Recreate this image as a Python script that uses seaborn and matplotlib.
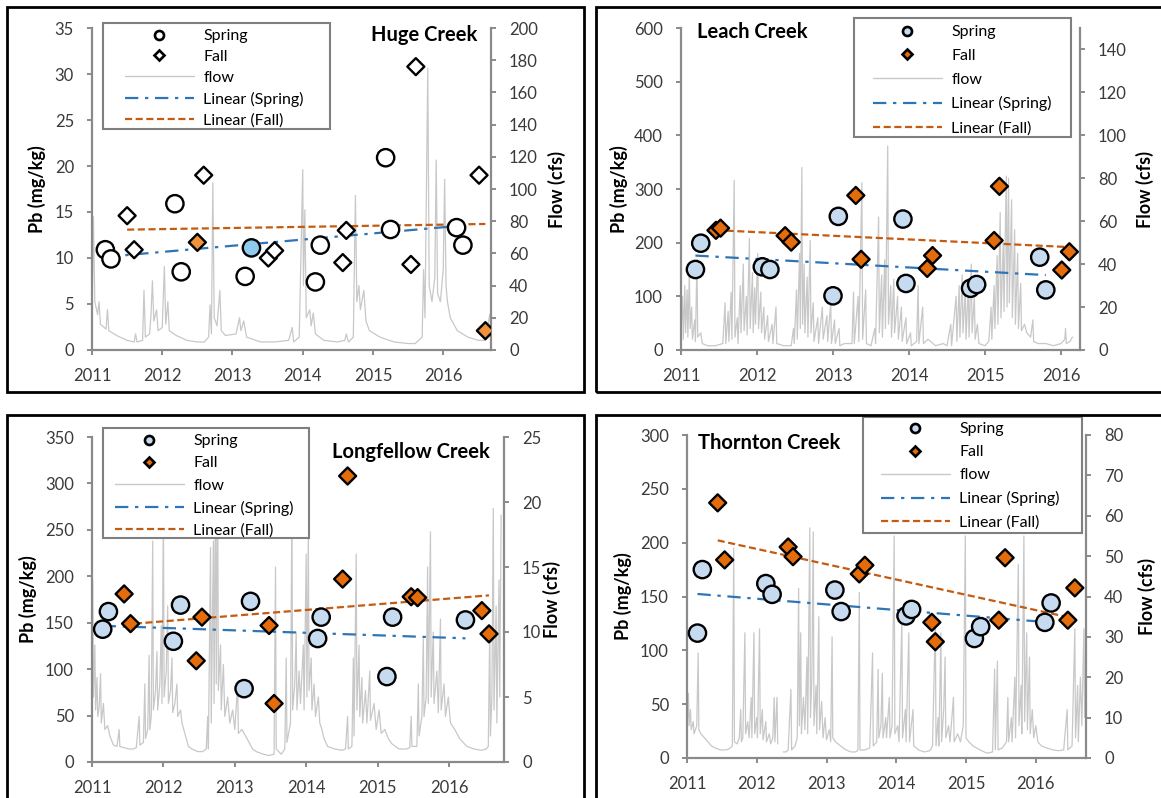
import numpy as np
import matplotlib
matplotlib.use("Agg")
import matplotlib.pyplot as plt
import seaborn as sns
from matplotlib.lines import Line2D
from matplotlib.patches import Rectangle

# ---------------------------------------------------------------- data
# Huge Creek
huge_spring_t = [2011.19, 2011.27, 2012.18, 2012.27, 2013.18, 2013.27,
                 2014.18, 2014.25, 2015.18, 2015.25, 2016.19, 2016.28]
huge_spring_pb = [10.9, 9.9, 15.9, 8.5, 8.0, 11.1, 7.4, 11.4, 20.9, 13.1, 13.3, 11.4]
huge_fall_t = [2011.50, 2011.60, 2012.50, 2012.59, 2013.51, 2013.60,
               2014.57, 2014.62, 2015.54, 2015.61, 2016.51, 2016.60]
huge_fall_pb = [14.6, 10.9, 11.7, 19.0, 10.0, 10.8, 9.5, 13.0, 9.3, 30.8, 19.0, 2.1]
huge_flow = [
    (2011.00, 20), (2011.02, 83), (2011.04, 30), (2011.08, 22), (2011.10, 30), (2011.12, 16),
    (2011.20, 13), (2011.22, 25), (2011.24, 12), (2011.35, 9), (2011.50, 6), (2011.60, 5),
    (2011.62, 10), (2011.64, 5), (2011.72, 6), (2011.74, 37), (2011.76, 8), (2011.82, 10),
    (2011.84, 22), (2011.86, 43), (2011.88, 18), (2011.92, 25), (2011.94, 12), (2012.00, 14),
    (2012.03, 52), (2012.05, 16), (2012.08, 30), (2012.10, 12), (2012.20, 9), (2012.35, 6),
    (2012.50, 5), (2012.60, 5), (2012.66, 8), (2012.68, 28), (2012.70, 10), (2012.72, 104),
    (2012.74, 20), (2012.78, 15), (2012.82, 37), (2012.84, 12), (2012.90, 9), (2013.05, 10),
    (2013.10, 20), (2013.12, 12), (2013.16, 18), (2013.20, 8), (2013.40, 5), (2013.60, 5),
    (2013.80, 6), (2013.85, 14), (2013.87, 5), (2013.95, 8), (2014.00, 112), (2014.01, 40),
    (2014.03, 87), (2014.05, 20), (2014.10, 25), (2014.12, 15), (2014.15, 23), (2014.18, 10),
    (2014.30, 6), (2014.50, 5), (2014.60, 6), (2014.62, 10), (2014.65, 5), (2014.72, 8),
    (2014.75, 96), (2014.77, 30), (2014.80, 40), (2014.82, 25), (2014.87, 37), (2014.90, 18),
    (2014.95, 12), (2015.10, 8), (2015.30, 5), (2015.50, 4), (2015.60, 4), (2015.65, 6),
    (2015.70, 8), (2015.72, 50), (2015.74, 20), (2015.78, 175), (2015.80, 40), (2015.84, 30),
    (2015.88, 45), (2015.90, 118), (2015.92, 35), (2015.96, 30), (2016.00, 50), (2016.02, 106),
    (2016.04, 40), (2016.06, 30), (2016.10, 20), (2016.20, 12), (2016.35, 8), (2016.50, 6),
    (2016.60, 6), (2016.63, 12), (2016.66, 22), (2016.68, 15),
]

# Leach Creek
leach_spring_t = [2011.19, 2011.26, 2012.07, 2012.17, 2013.00, 2013.07,
                  2013.92, 2013.96, 2014.81, 2014.89, 2015.72, 2015.80]
leach_spring_pb = [150, 199, 155, 150, 101, 249, 244, 124, 115, 122, 173, 112]
leach_fall_t = [2011.46, 2011.52, 2012.37, 2012.45, 2013.30, 2013.37,
                2014.24, 2014.31, 2015.12, 2015.19, 2016.01, 2016.11]
leach_fall_pb = [223, 227, 213, 201, 288, 169, 152, 176, 204, 305, 149, 183]
leach_flow = [
    (2011.00, 8), (2011.02, 25), (2011.03, 5), (2011.05, 30), (2011.06, 8), (2011.08, 28),
    (2011.09, 6), (2011.11, 36), (2011.12, 10), (2011.14, 20), (2011.15, 5), (2011.18, 14),
    (2011.19, 4), (2011.21, 42), (2011.22, 6), (2011.26, 8), (2011.28, 3), (2011.35, 2),
    (2011.45, 2), (2011.55, 3), (2011.58, 22), (2011.59, 3), (2011.62, 18), (2011.63, 4),
    (2011.66, 27), (2011.67, 5), (2011.70, 79), (2011.71, 6), (2011.74, 15), (2011.75, 3),
    (2011.78, 30), (2011.79, 8), (2011.82, 40), (2011.83, 9), (2011.86, 25), (2011.87, 7),
    (2011.90, 52), (2011.91, 10), (2011.94, 36), (2011.95, 8), (2011.97, 29), (2011.98, 12),
    (2012.01, 45), (2012.02, 10), (2012.05, 27), (2012.06, 8), (2012.09, 20), (2012.10, 5),
    (2012.14, 16), (2012.15, 4), (2012.20, 12), (2012.21, 3), (2012.25, 20), (2012.26, 3),
    (2012.35, 2), (2012.45, 2), (2012.48, 10), (2012.49, 3), (2012.52, 28), (2012.53, 5),
    (2012.56, 45), (2012.57, 10), (2012.59, 85), (2012.60, 12), (2012.62, 40), (2012.63, 8),
    (2012.66, 34), (2012.67, 6), (2012.70, 51), (2012.71, 8), (2012.74, 22), (2012.75, 4),
    (2012.80, 15), (2012.81, 3), (2012.86, 20), (2012.87, 5), (2012.92, 16), (2012.93, 4),
    (2012.97, 22), (2012.98, 3), (2013.02, 14), (2013.03, 3), (2013.08, 10), (2013.09, 2),
    (2013.15, 3), (2013.25, 3), (2013.27, 27), (2013.28, 3), (2013.33, 25), (2013.34, 4),
    (2013.38, 78), (2013.39, 5), (2013.43, 28), (2013.44, 3), (2013.50, 2), (2013.55, 10),
    (2013.56, 3), (2013.60, 62), (2013.61, 8), (2013.64, 35), (2013.65, 6), (2013.68, 42),
    (2013.69, 10), (2013.72, 95), (2013.73, 12), (2013.76, 30), (2013.77, 6), (2013.80, 33),
    (2013.81, 8), (2013.85, 25), (2013.86, 5), (2013.90, 20), (2013.91, 4), (2013.96, 15),
    (2013.97, 3), (2014.02, 8), (2014.03, 2), (2014.10, 4), (2014.12, 30), (2014.13, 3),
    (2014.18, 20), (2014.19, 3), (2014.25, 5), (2014.35, 2), (2014.45, 3), (2014.50, 2),
    (2014.55, 12), (2014.56, 2), (2014.62, 25), (2014.63, 4), (2014.66, 30), (2014.67, 6),
    (2014.70, 35), (2014.71, 8), (2014.74, 28), (2014.75, 5), (2014.78, 30), (2014.79, 6),
    (2014.82, 40), (2014.83, 8), (2014.86, 25), (2014.87, 5), (2014.90, 12), (2014.92, 3),
    (2015.00, 2), (2015.05, 4), (2015.08, 20), (2015.09, 5), (2015.12, 30), (2015.13, 10),
    (2015.16, 44), (2015.17, 12), (2015.20, 64), (2015.21, 15), (2015.24, 50), (2015.25, 18),
    (2015.28, 81), (2015.29, 20), (2015.31, 80), (2015.32, 22), (2015.35, 70), (2015.36, 15),
    (2015.39, 56), (2015.40, 12), (2015.43, 45), (2015.44, 10), (2015.47, 31), (2015.48, 9),
    (2015.52, 12), (2015.55, 8), (2015.60, 6), (2015.63, 14), (2015.64, 4), (2015.70, 3),
    (2015.80, 3), (2015.90, 2), (2016.00, 3), (2016.05, 5), (2016.06, 10), (2016.07, 3),
    (2016.12, 4), (2016.15, 6),
]

# Longfellow Creek
long_spring_t = [2011.15, 2011.23, 2012.14, 2012.24, 2013.13, 2013.22,
                 2014.16, 2014.21, 2015.13, 2015.21, 2016.23]
long_spring_pb = [143, 162, 130, 169, 79, 173, 133, 156, 92, 156, 153]
long_fall_t = [2011.45, 2011.54, 2012.46, 2012.54, 2013.48, 2013.55,
               2014.51, 2014.58, 2015.47, 2015.56, 2016.46, 2016.56]
long_fall_pb = [181, 149, 109, 156, 147, 63, 197, 308, 178, 177, 163, 138]
long_flow = [
    (2011.00, 4.5), (2011.01, 14.0), (2011.02, 5.0), (2011.04, 9.0), (2011.05, 4.0), (2011.07, 6.5),
    (2011.08, 3.5), (2011.10, 4.2), (2011.12, 6.8), (2011.13, 3.0), (2011.16, 4.5), (2011.18, 2.5),
    (2011.22, 2.8), (2011.25, 2.0), (2011.30, 1.3), (2011.35, 1.2), (2011.38, 2.5), (2011.39, 1.2),
    (2011.45, 1.1), (2011.52, 1.0), (2011.58, 1.0), (2011.62, 1.1), (2011.66, 3.5), (2011.67, 1.3),
    (2011.72, 1.5), (2011.74, 6.0), (2011.75, 1.8), (2011.78, 2.5), (2011.80, 8.2), (2011.81, 2.5),
    (2011.83, 3.5), (2011.85, 17.0), (2011.86, 4.0), (2011.89, 5.5), (2011.91, 8.5), (2011.92, 4.0),
    (2011.95, 6.0), (2011.97, 10.5), (2011.98, 4.5), (2012.00, 19.5), (2012.01, 5.0), (2012.04, 7.0),
    (2012.06, 12.0), (2012.07, 4.5), (2012.10, 5.5), (2012.12, 8.0), (2012.13, 3.8), (2012.16, 4.5),
    (2012.19, 6.0), (2012.20, 3.5), (2012.24, 4.0), (2012.26, 3.0), (2012.30, 2.2), (2012.35, 1.2),
    (2012.40, 1.0), (2012.48, 0.8), (2012.55, 0.8), (2012.60, 1.0), (2012.62, 3.5), (2012.63, 1.0),
    (2012.66, 16.5), (2012.67, 3.0), (2012.70, 17.0), (2012.71, 4.5), (2012.73, 23.0), (2012.74, 6.0),
    (2012.76, 22.0), (2012.77, 5.5), (2012.80, 9.0), (2012.81, 4.0), (2012.84, 7.5), (2012.86, 3.5),
    (2012.90, 5.0), (2012.93, 3.0), (2012.97, 4.0), (2013.00, 2.5), (2013.04, 6.0), (2013.05, 2.2),
    (2013.10, 2.5), (2013.15, 2.0), (2013.20, 1.5), (2013.25, 1.0), (2013.30, 0.8), (2013.40, 0.6),
    (2013.48, 0.5), (2013.55, 0.6), (2013.57, 15.0), (2013.58, 1.0), (2013.65, 0.6), (2013.70, 1.0),
    (2013.72, 8.0), (2013.73, 1.5), (2013.78, 3.0), (2013.80, 20.0), (2013.81, 4.0), (2013.84, 6.0),
    (2013.86, 10.0), (2013.87, 4.0), (2013.90, 7.0), (2013.92, 4.5), (2013.96, 9.0), (2013.97, 4.0),
    (2014.00, 16.0), (2014.01, 5.0), (2014.03, 17.5), (2014.04, 5.5), (2014.07, 8.0), (2014.08, 4.0),
    (2014.11, 6.0), (2014.13, 3.5), (2014.17, 5.0), (2014.19, 3.0), (2014.22, 2.5), (2014.25, 1.8),
    (2014.30, 1.2), (2014.40, 1.0), (2014.50, 0.9), (2014.55, 1.0), (2014.58, 3.5), (2014.59, 1.0),
    (2014.64, 1.2), (2014.66, 8.0), (2014.67, 2.0), (2014.70, 16.0), (2014.71, 4.0), (2014.74, 9.0),
    (2014.75, 3.5), (2014.78, 6.5), (2014.79, 3.0), (2014.83, 5.5), (2014.85, 3.0), (2014.89, 7.0),
    (2014.90, 3.2), (2014.95, 4.5), (2014.98, 2.5), (2015.02, 4.0), (2015.05, 2.2), (2015.10, 2.5),
    (2015.15, 1.8), (2015.20, 1.4), (2015.30, 1.0), (2015.40, 1.0), (2015.45, 1.1), (2015.47, 3.5),
    (2015.48, 1.2), (2015.55, 1.2), (2015.57, 6.0), (2015.58, 2.0), (2015.62, 3.5), (2015.64, 9.5),
    (2015.65, 3.5), (2015.68, 5.0), (2015.70, 15.0), (2015.71, 4.5), (2015.74, 17.7), (2015.75, 5.0),
    (2015.78, 10.0), (2015.79, 4.5), (2015.83, 7.0), (2015.85, 3.8), (2015.88, 11.0), (2015.89, 4.0),
    (2015.93, 6.0), (2015.95, 3.5), (2015.99, 5.0), (2016.02, 3.0), (2016.08, 2.5), (2016.15, 1.8),
    (2016.25, 1.2), (2016.35, 1.0), (2016.45, 0.9), (2016.52, 1.0), (2016.55, 1.2), (2016.57, 10.0),
    (2016.58, 2.0), (2016.60, 5.0), (2016.62, 19.5), (2016.63, 4.0), (2016.66, 12.0), (2016.67, 3.0),
    (2016.70, 14.0), (2016.71, 5.0), (2016.73, 19.0),
]

# Thornton Creek
thorn_spring_t = [2011.15, 2011.22, 2012.13, 2012.22, 2013.12, 2013.21,
                  2014.14, 2014.22, 2015.12, 2015.21, 2016.13, 2016.22]
thorn_spring_pb = [116, 175, 162, 152, 156, 136, 132, 138, 111, 122, 126, 144]
thorn_fall_t = [2011.44, 2011.54, 2012.45, 2012.52, 2013.47, 2013.55,
                2014.51, 2014.56, 2015.47, 2015.56, 2016.46, 2016.56]
thorn_fall_pb = [237, 184, 196, 187, 171, 179, 126, 108, 128, 186, 128, 158]
thorn_flow = [
    (2011.00, 18), (2011.01, 10), (2011.02, 16), (2011.03, 8), (2011.05, 12), (2011.06, 7),
    (2011.09, 9), (2011.10, 6), (2011.14, 8), (2011.16, 26), (2011.17, 7), (2011.20, 6),
    (2011.25, 5), (2011.30, 4), (2011.35, 3), (2011.40, 2.5), (2011.48, 2), (2011.55, 2),
    (2011.60, 2.2), (2011.65, 3), (2011.67, 52), (2011.68, 4), (2011.72, 3.5), (2011.75, 5),
    (2011.77, 12), (2011.78, 4), (2011.80, 5), (2011.83, 31), (2011.84, 6), (2011.87, 9),
    (2011.89, 5), (2011.92, 15), (2011.93, 5), (2011.96, 31), (2011.97, 6), (2012.00, 10),
    (2012.01, 5), (2012.04, 32), (2012.05, 6), (2012.08, 12), (2012.09, 4.5), (2012.13, 9),
    (2012.14, 4), (2012.18, 6), (2012.20, 3.5), (2012.23, 5), (2012.25, 15), (2012.26, 4),
    (2012.29, 15), (2012.30, 3.5), (np.nan, np.nan),
    (2012.38, 1.5), (2012.42, 1.5), (2012.45, 2), (2012.49, 17), (2012.50, 2), (2012.55, 3),
    (2012.58, 5), (2012.60, 42), (2012.61, 8), (2012.63, 31), (2012.64, 6), (2012.67, 15),
    (2012.69, 7), (2012.72, 25), (2012.73, 6), (2012.76, 57), (2012.77, 10), (2012.79, 20),
    (2012.81, 56), (2012.82, 8), (2012.85, 18), (2012.86, 6), (2012.89, 35), (2012.90, 7),
    (2012.93, 14), (2012.95, 5), (2012.98, 10), (2013.00, 4.5), (2013.04, 7), (2013.06, 4),
    (2013.08, 30), (2013.09, 5), (2013.13, 4), (2013.20, 3), (2013.28, 2), (2013.35, 1.5),
    (2013.42, 1.5), (2013.45, 2), (2013.47, 41), (2013.48, 2), (2013.55, 2), (2013.62, 2.5),
    (2013.66, 26), (2013.67, 3), (2013.72, 4), (2013.74, 22), (2013.75, 5), (2013.78, 8),
    (2013.80, 21), (2013.81, 5), (2013.85, 10), (2013.86, 5), (2013.90, 15), (2013.91, 5),
    (2013.94, 8), (2013.97, 55), (2013.98, 6), (2014.02, 8), (2014.04, 4), (2014.08, 34),
    (2014.09, 5), (2014.13, 12), (2014.14, 4), (2014.18, 31), (2014.19, 4), (2014.24, 12),
    (2014.25, 3), (2014.32, 2), (2014.40, 1.5), (2014.48, 1.8), (2014.52, 3), (2014.56, 34),
    (2014.57, 3), (2014.60, 10), (2014.61, 3), (2014.64, 31), (2014.65, 4), (2014.68, 12),
    (2014.70, 25), (2014.71, 5), (2014.75, 8), (2014.77, 4), (2014.82, 15), (2014.83, 4),
    (2014.88, 6), (2014.92, 4), (2014.96, 8), (2014.99, 55), (2015.00, 5), (2015.04, 4),
    (2015.10, 3), (2015.20, 2), (2015.30, 1.2), (2015.38, 1.5), (2015.41, 22), (2015.42, 2),
    (2015.45, 24), (2015.46, 2), (2015.52, 2.5), (2015.58, 4), (2015.60, 15), (2015.61, 4),
    (2015.65, 10), (2015.66, 4), (2015.70, 20), (2015.71, 5), (2015.75, 48), (2015.76, 8),
    (2015.79, 18), (2015.80, 6), (2015.83, 55), (2015.84, 9), (2015.87, 31), (2015.88, 7),
    (2015.91, 25), (2015.92, 6), (2015.95, 12), (2015.97, 5), (2016.00, 8), (2016.03, 4),
    (2016.08, 3), (2016.15, 2.5), (2016.25, 2), (2016.32, 1.8), (2016.40, 2), (2016.45, 12),
    (2016.46, 2), (2016.52, 3), (2016.56, 32), (2016.57, 5), (2016.60, 18), (2016.61, 4),
    (2016.64, 20), (2016.66, 8), (2016.69, 32), (2016.70, 10),
]

year_ticks = [2011, 2012, 2013, 2014, 2015, 2016]
legend_labels = ["Spring", "Fall", "flow", "Linear (Spring)", "Linear (Fall)"]

# ---------------------------------------------------------------- styles
W, H = 1161, 798
AXIS_GRAY = "#8a8a8a"
TICK_TEXT = "#3a3a3a"
FLOW_COLOR = "#c8c8c8"
SPRING_BLUE = "#c6daf0"
FALL_ORANGE = "#e46c0a"
HI_BLUE = "#8ecbee"
HI_ORANGE = "#f0913c"
TREND_SPRING = "#2e75b6"
TREND_FALL = "#c55a11"
TICK_SIZE = 12
LEGEND_SIZE = 11.5

sns.set_theme(style="white")
plt.rcParams["font.family"] = ["Lato", "DejaVu Sans"]


def fx(x):
    return x / W


def fy(y):
    return 1 - y / H


panels = [
    dict(name="Huge Creek", spring=(huge_spring_t, huge_spring_pb), fall=(huge_fall_t, huge_fall_pb),
         flow=huge_flow, box=(92, 28, 491, 350), xmax=2016.68,
         ylim=35, ystep=5, qlim=200, qstep=20, qtop=200,
         spring_face="white", fall_face="white", spring_hi=[5], fall_hi=[2, 11],
         frame=(7, 7, 584, 392), leg_box=(103, 23, 330, 129), leg_anchor=(125, 29), leg_space=0.42,
         title_xy=(477, 35), title_ha="right", pb_x=37, q_x=557),
    dict(name="Leach Creek", spring=(leach_spring_t, leach_spring_pb), fall=(leach_fall_t, leach_fall_pb),
         flow=leach_flow, box=(681, 28, 1080, 350), xmax=2016.25,
         ylim=600, ystep=100, qlim=150, qstep=20, qtop=140,
         spring_face=SPRING_BLUE, fall_face=FALL_ORANGE, spring_hi=[], fall_hi=[],
         frame=(596, 7, 1175, 392), leg_box=(854, 18, 1071, 137), leg_anchor=(873, 25), leg_space=0.60,
         title_xy=(697, 32), title_ha="left", pb_x=619, q_x=1145),
    dict(name="Longfellow Creek", spring=(long_spring_t, long_spring_pb), fall=(long_fall_t, long_fall_pb),
         flow=long_flow, box=(92, 437, 504, 762), xmax=2016.77,
         ylim=350, ystep=50, qlim=25, qstep=5, qtop=25,
         spring_face=SPRING_BLUE, fall_face=FALL_ORANGE, spring_hi=[], fall_hi=[],
         frame=(7, 415, 584, 815), leg_box=(103, 428, 309, 538), leg_anchor=(115, 434), leg_space=0.50,
         title_xy=(490, 452), title_ha="right", pb_x=28, q_x=552),
    dict(name="Thornton Creek", spring=(thorn_spring_t, thorn_spring_pb), fall=(thorn_fall_t, thorn_fall_pb),
         flow=thorn_flow, box=(687, 435, 1086, 758), xmax=2016.72,
         ylim=300, ystep=50, qlim=80, qstep=10, qtop=80,
         spring_face=SPRING_BLUE, fall_face=FALL_ORANGE, spring_hi=[], fall_hi=[],
         frame=(596, 415, 1175, 815), leg_box=(863, 417, 1082, 533), leg_anchor=(881, 422), leg_space=0.56,
         title_xy=(698, 443), title_ha="left", pb_x=623, q_x=1147),
]

fig = plt.figure(figsize=(W / 100, H / 100), dpi=100)


def style_spine(sp):
    sp.set_color(AXIS_GRAY)
    sp.set_linewidth(1.6)


for p in panels:
    x0, y0, x1, y1 = p["box"]
    ax = fig.add_axes([fx(x0), fy(y1), (x1 - x0) / W, (y1 - y0) / H])
    ax2 = ax.twinx()
    ax.set_zorder(2)
    ax2.set_zorder(1)
    ax.patch.set_visible(False)

    # daily flow on the secondary axis (split at gaps in the record)
    flow = np.array(p["flow"], dtype=float)
    gaps = np.where(np.isnan(flow[:, 0]))[0]
    for seg in np.split(flow, gaps):
        seg = seg[~np.isnan(seg[:, 0])]
        sns.lineplot(x=seg[:, 0], y=seg[:, 1], ax=ax2, color=FLOW_COLOR, lw=0.9,
                     sort=False, estimator=None, legend=False)

    # linear trend lines
    st, sp = p["spring"]
    ft, fp = p["fall"]
    sns.regplot(x=np.array(st), y=np.array(sp), ax=ax, scatter=False, ci=None, truncate=True,
                line_kws=dict(color=TREND_SPRING, lw=1.6, dashes=(6, 3, 1.5, 3), zorder=3))
    sns.regplot(x=np.array(ft), y=np.array(fp), ax=ax, scatter=False, ci=None, truncate=True,
                line_kws=dict(color=TREND_FALL, lw=1.6, dashes=(3.2, 1.6), zorder=3))

    # sample markers
    s_face = [HI_BLUE if i in p["spring_hi"] else p["spring_face"] for i in range(len(st))]
    f_face = [HI_ORANGE if i in p["fall_hi"] else p["fall_face"] for i in range(len(ft))]
    sns.scatterplot(x=st, y=sp, hue=s_face, palette={c: c for c in s_face}, marker="o", s=155,
                    edgecolor="black", linewidth=1.7, legend=False, ax=ax, zorder=5)
    sns.scatterplot(x=ft, y=fp, hue=f_face, palette={c: c for c in f_face}, marker="D", s=75,
                    edgecolor="black", linewidth=1.7, legend=False, ax=ax, zorder=6)

    # axes
    ax.set_xlim(2011, p["xmax"])
    ax.set_ylim(0, p["ylim"])
    ax.set_yticks(np.arange(0, p["ylim"] + 1e-9, p["ystep"]))
    ax.set_xticks(year_ticks)
    ax.set_xticklabels([str(y) for y in year_ticks])
    ax2.set_ylim(0, p["qlim"])
    ax2.set_yticks(np.arange(0, p["qtop"] + 1e-9, p["qstep"]))
    ax.set_xlabel("")
    ax.set_ylabel("")
    ax2.set_ylabel("")
    for side in ("top", "right"):
        ax.spines[side].set_visible(False)
    for side in ("top", "left", "bottom"):
        ax2.spines[side].set_visible(False)
    style_spine(ax.spines["left"])
    style_spine(ax.spines["bottom"])
    style_spine(ax2.spines["right"])
    for a in (ax, ax2):
        a.tick_params(axis="both", direction="out", length=3.5, width=1.4, color=AXIS_GRAY,
                      labelcolor=TICK_TEXT, labelsize=TICK_SIZE, pad=9.5)
        a.grid(False)
    ax.tick_params(left=True, bottom=True)
    ax2.tick_params(right=True)

    # axis titles and panel name
    yc = (y0 + y1) / 2
    fig.text(fx(p["pb_x"]), fy(yc), "Pb (mg/kg)", rotation=90, ha="center", va="center",
             fontsize=13, fontweight="bold", color="black")
    fig.text(fx(p["q_x"]), fy(yc), "Flow (cfs)", rotation=90, ha="center", va="center",
             fontsize=13, fontweight="bold", color="black")
    fig.text(fx(p["title_xy"][0]), fy(p["title_xy"][1]), p["name"], ha=p["title_ha"], va="center",
             fontsize=14.5, fontweight="bold", color="black")

    # legend
    lx0, ly0, lx1, ly1 = p["leg_box"]
    fig.patches.append(Rectangle((fx(lx0), fy(ly1)), (lx1 - lx0) / W, (ly1 - ly0) / H,
                                 transform=fig.transFigure, facecolor="white",
                                 edgecolor="#7f7f7f", lw=1.5, zorder=4))
    handles = [
        Line2D([], [], ls="none", marker="o", ms=6.5, mfc=p["spring_face"], mec="black", mew=1.9),
        Line2D([], [], ls="none", marker="D", ms=5.5, mfc=p["fall_face"], mec="black", mew=1.9),
        Line2D([], [], color=FLOW_COLOR, lw=1.0),
        Line2D([], [], color=TREND_SPRING, lw=1.6, dashes=(6, 3, 1.5, 3)),
        Line2D([], [], color=TREND_FALL, lw=1.6, dashes=(3.2, 1.6)),
    ]
    leg = fig.legend(handles, legend_labels, loc="upper left",
                     bbox_to_anchor=(fx(p["leg_anchor"][0]), fy(p["leg_anchor"][1])),
                     bbox_transform=fig.transFigure, frameon=False, borderpad=0, borderaxespad=0,
                     handlelength=4.3, handletextpad=0.6, labelspacing=p["leg_space"],
                     fontsize=LEGEND_SIZE)
    leg.set_zorder(5)
    for t in leg.get_texts():
        t.set_color("black")

    # outer chart frame
    fx0, fy0, fx1, fy1 = p["frame"]
    fig.patches.append(Rectangle((fx(fx0), fy(fy1)), (fx1 - fx0) / W, (fy1 - fy0) / H,
                                 transform=fig.transFigure, fill=False, edgecolor="black",
                                 lw=2.0, zorder=10))

fig.savefig("out.png", dpi=100)
